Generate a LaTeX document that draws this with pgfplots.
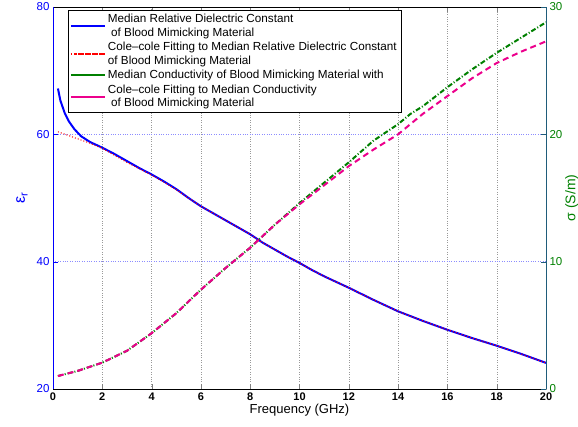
\documentclass[border=0pt]{standalone}
\usepackage{pgfplots}
\pgfplotsset{compat=1.18}
\usepackage{fontspec}
\setmainfont{Liberation Sans}
\definecolor{mgreen}{rgb}{0,0.5,0}
\definecolor{raxis}{rgb}{0.12,0.36,0.48}
\begin{document}
\begin{tikzpicture}
\pgfplotsset{
  common/.style={
    width=493pt, height=382pt, scale only axis,
    xmin=0, xmax=20,
    /pgf/number format/assume math mode=true,
    tick align=inside,
    major tick length=5pt,
  }
}
\begin{axis}[common,
  ymin=20, ymax=80, ytick={20,40,60,80},
  xtick={0,2,...,20},
  axis x line*=box, axis y line*=left,
  xtick pos=both, ytick pos=left,
  x axis line style={-,black},
  y axis line style={-,blue, line width=1pt},
  every y tick/.style={blue},
  xmajorgrids, ymajorgrids,
  major x grid style={gray!80, dotted},
  major y grid style={blue!45, dotted, line width=0.7pt},
  xticklabel style={font=\bfseries\fontsize{11}{11}\selectfont},
  yticklabel style={text=blue, font=\fontsize{11.5}{11.5}\selectfont},
  xlabel={Frequency (GHz)},
  xlabel style={font=\fontsize{13}{13}\selectfont, yshift=3pt},
  ylabel={{\fontsize{16}{16}\selectfont ε\textsubscript{r}}},
  ylabel style={text=blue, at={(axis description cs:-0.063,0.5)}, anchor=center},
]
\addplot[blue, line width=2pt] coordinates {
(0.2,67.2) (0.3,65.3) (0.47,63.4) (0.65,62.0) (0.87,60.8) (1.14,59.7) (1.5,58.8)
(2,57.9) (2.5,56.9) (3,55.8) (3.5,54.7) (4,53.7) (4.5,52.6) (5,51.4) (5.5,50.0)
(6,48.7) (6.5,47.6) (7,46.5) (7.5,45.4) (8,44.3) (8.5,43.0) (9,41.9) (9.5,40.8)
(10,39.8) (10.5,38.7) (11,37.7) (11.5,36.8) (12,35.9) (13,34.0) (14,32.2)
(15,30.7) (16,29.3) (17,28.0) (18,26.8) (19,25.5) (20,24.1)};
\addplot[red, line width=1.1pt, dash pattern=on 1pt off 2pt] coordinates {
(0.2,60.4) (0.5,60.0) (1.0,59.3) (1.5,58.6) (2,57.8) (2.5,56.7) (3,55.6)
(3.5,54.6) (4,53.6) (4.5,52.5) (5,51.3) (5.5,50.0) (6,48.7) (6.5,47.6) (7,46.5)
(7.5,45.4) (8,44.3) (8.5,43.0) (9,41.9) (9.5,40.8) (10,39.8) (10.5,38.7)
(11,37.7) (11.5,36.8) (12,35.9) (13,34.0) (14,32.2) (15,30.7) (16,29.3)
(17,28.0) (18,26.8) (19,25.5) (20,24.1)};
\end{axis}
\begin{axis}[common,
  ymin=0, ymax=30, ytick={0,10,20,30},
  axis x line=none, axis y line*=right, ytick pos=right,
  y axis line style={-,raxis, line width=1pt},
  every y tick/.style={raxis},
  yticklabel style={text=mgreen, font=\fontsize{11.5}{11.5}\selectfont},
  ylabel={σ (S/m)},
  ylabel style={text=mgreen, font=\fontsize{14}{14}\selectfont,
    at={(axis description cs:1.052,0.5)}, anchor=center},
  legend style={at={(0.03,0.992)}, anchor=north west, draw=black, fill=white,
    font=\fontsize{11.7}{13.3}\selectfont, cells={anchor=west, align=left},
    row sep=0.8pt, inner sep=2pt},
  legend image code/.code={\path (0pt,0pt) -- (34pt,0pt); \draw[#1] (5pt,0pt) -- (34pt,0pt);},
]
\addlegendimage{blue, line width=2pt}
\addlegendentry{Median Relative Dielectric Constant\\\ of Blood Mimicking Material}
\addlegendimage{red, line width=1.3pt, dash pattern=on 1.2pt off 2.3pt}
\addlegendentry{Cole\textendash cole Fitting to Median Relative Dielectric Constant\\of Blood Mimicking Material}
\addplot[mgreen, line width=2pt, dash pattern=on 5pt off 2pt on 1pt off 2pt] coordinates {
(0.2,1.02) (1,1.42) (2,2.07) (3,3.0) (4,4.38) (5,5.95) (6,7.8) (7,9.5) (8,11.1)
(9,12.9) (10,14.6) (11,16.2) (12,17.8) (13,19.5) (14,20.8) (14.5,21.6) (15,22.2)
(16,23.7) (17,25.1) (18,26.4) (19,27.6) (20,28.8)};
\addlegendentry{Median Conductivity of Blood Mimicking Material with}
\addplot[magenta, line width=2pt, dash pattern=on 6pt off 4pt] coordinates {
(0.2,1.02) (1,1.42) (2,2.07) (3,3.0) (4,4.38) (5,5.95) (6,7.8) (7,9.5) (8,11.1)
(9,12.9) (10,14.5) (11,16.0) (12,17.5) (13,18.8) (14,20.0) (15,21.6) (16,23.0)
(17,24.4) (18,25.6) (19,26.5) (20,27.3)};
\addlegendentry{Cole\textendash cole Fitting to Median Conductivity\\\ of Blood Mimicking Material}
\end{axis}
\pgfresetboundingbox
\path[use as bounding box] (-53pt,-38pt) rectangle (525pt,389pt);
\end{tikzpicture}
\end{document}
